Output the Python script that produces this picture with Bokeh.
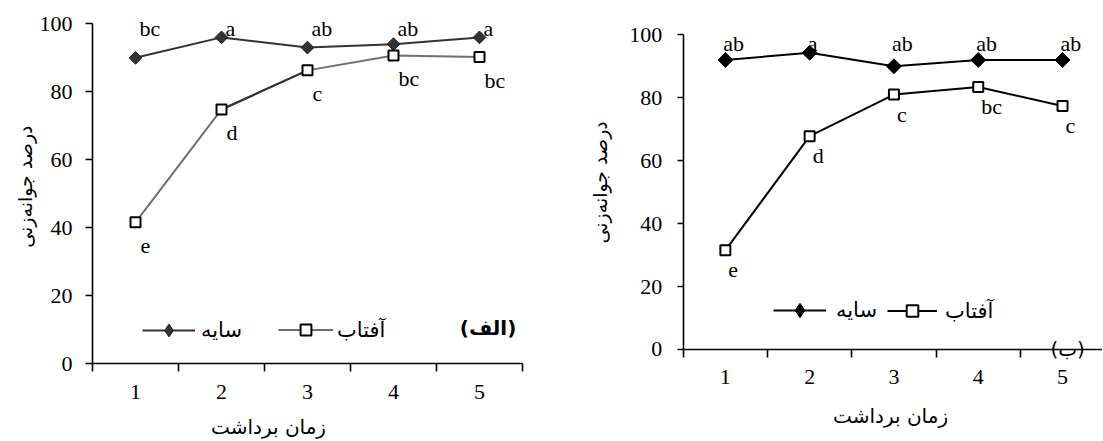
import numpy as np
from bokeh.plotting import figure
from bokeh.layouts import row
from bokeh.models import (ColumnDataSource, FixedTicker, Legend, LegendItem,
                          Label, LabelSet)
from bokeh.core.properties import value
from bokeh.embed import file_html
from bokeh.resources import INLINE

# ---------------- data ----------------
harvest = [1, 2, 3, 4, 5]
tick_labels = ["1", "2", "3", "4", "5"]
y_ticks = [0, 20, 40, 60, 80, 100]

a_shade = [90, 96, 93, 94, 96]
a_sun = [41.6, 74.8, 86.3, 90.7, 90.2]
a_shade_letters = ["bc", "a", "ab", "ab", "a"]
a_sun_letters = ["e", "d", "c", "bc", "bc"]

b_shade = [92, 94.3, 90, 92, 92]
b_sun = [31.5, 67.8, 81, 83.4, 77.4]
b_shade_letters = ["ab", "a", "ab", "ab", "ab"]
b_sun_letters = ["e", "d", "c", "bc", "c"]

y_title = "درصد جوانه‌زنی"
x_title = "زمان برداشت"
shade_name = "سایه"
sun_name = "آفتاب"
panel_a = "(الف)"
panel_b = "(ب)"

SERIF = "Liberation Serif"
FA = "DejaVu Sans"
H = 440


def make_fig(width, x_range, y_range, x_bounds, tick_out_y, y_standoff):
    p = figure(width=width, height=H, x_range=x_range, y_range=y_range,
               output_backend="svg", toolbar_location=None,
               min_border=0, min_border_left=0, min_border_right=0,
               min_border_top=0, min_border_bottom=0)
    p.xgrid.visible = False
    p.ygrid.visible = False
    p.outline_line_color = None
    for ax in (p.xaxis[0], p.yaxis[0]):
        ax.axis_line_color = "black"
        ax.axis_line_width = 1.6
        ax.major_label_text_font = SERIF
        ax.major_label_text_font_size = "22px"
        ax.major_label_text_color = "black"
    xa = p.xaxis[0]
    xa.fixed_location = 0
    xa.bounds = x_bounds
    xa.ticker = FixedTicker(ticks=harvest,
                            minor_ticks=[h - 0.5 for h in harvest] + [harvest[-1] + 0.5])
    xa.major_label_overrides = {h: t for h, t in zip(harvest, tick_labels)}
    xa.major_tick_out = 0
    xa.major_tick_in = 0
    xa.minor_tick_out = 8
    xa.minor_tick_in = 0
    xa.minor_tick_line_color = "black"
    xa.minor_tick_line_width = 1.6
    xa.major_label_standoff = 13
    ya = p.yaxis[0]
    ya.fixed_location = 0.5
    ya.bounds = (0, 100)
    ya.ticker = FixedTicker(ticks=y_ticks)
    ya.major_tick_out = tick_out_y
    ya.major_tick_in = 0
    ya.major_tick_line_color = "black"
    ya.major_tick_line_width = 1.6
    ya.minor_tick_line_color = None
    ya.major_label_standoff = y_standoff
    return p


def letters(p, xs, ys, txt, xo, yo):
    src = ColumnDataSource(dict(x=xs, y=ys, t=txt))
    p.add_layout(LabelSet(x="x", y="y", text="t", source=src, x_offset=xo, y_offset=yo,
                          text_font=value(SERIF), text_font_size=value("22px"),
                          text_color="black", text_align="left",
                          text_baseline="alphabetic"))


def text(p, x, y, s, size="20px", angle=0.0, style="normal"):
    p.add_layout(Label(x=x, y=y, text=s, angle=angle, text_align="center",
                       text_baseline="middle", text_font=FA, text_font_size=size,
                       text_font_style=style, text_color="black"))


def legend(p, label, renderers, loc, gw, gh, standoff):
    p.add_layout(Legend(items=[LegendItem(label=value(label), renderers=renderers)],
                        orientation="horizontal", location=loc, glyph_width=gw,
                        glyph_height=gh, label_height=20, label_standoff=standoff,
                        padding=0, margin=0, border_line_color=None,
                        background_fill_alpha=0, inactive_fill_alpha=0,
                        label_text_font=FA, label_text_font_size="21px",
                        label_text_color="black"))


# ---------------- panel (الف) ----------------
p1 = make_fig(560, (-0.570, 5.942), (-22.56, 106.85), (0.5, 5.5), 7, 13)

dark = "#333333"
grey = "#707070"
l1 = p1.line(harvest, a_shade, line_color=dark, line_width=2)
l2 = p1.line(harvest, a_sun, line_color=grey, line_width=2)
p1.line(harvest[1:3], a_sun[1:3], line_color=dark, line_width=2)
p1.scatter(harvest, a_shade, marker="square", angle=np.pi / 4, size=9,
           fill_color=dark, line_color="#1a1a1a", line_width=1)
m2 = p1.scatter(harvest, a_sun, marker="square", size=10, fill_color="white",
                line_color="black", line_width=2)
# legend-only diamond key (legend keys ignore marker rotation)
k1 = p1.scatter(harvest, a_shade, marker="diamond", fill_color=dark,
                line_color="#1a1a1a", line_width=1, visible=False)

letters(p1, harvest, [max(a_shade)] * len(harvest), a_shade_letters, 4, 1)
letters(p1, harvest, a_sun, a_sun_letters, 5, -31)

legend(p1, shade_name, [l1, k1], (142, 94), 53, 32, 6)
legend(p1, sun_name, [l2, m2], (278, 97), 55, 27, 4)

text(p1, 2.547, -18.7, x_title)
text(p1, -0.29, 52.1, y_title, size="19px", angle=np.pi / 2)
text(p1, 5.1, 10.4, panel_a, style="bold")

# ---------------- panel (ب) ----------------
p2 = make_fig(542, (-0.9555, 5.474), (-28.92, 110.9), (0.5, 5.474), 6, 15)

l3 = p2.line(harvest, b_shade, line_color="black", line_width=2)
l4 = p2.line(harvest, b_sun, line_color="black", line_width=2)
p2.scatter(harvest, b_shade, marker="square", angle=np.pi / 4, size=10.5,
           fill_color="black", line_color="black", line_width=1)
m4 = p2.scatter(harvest, b_sun, marker="square", size=10, fill_color="white",
                line_color="black", line_width=2)
k3 = p2.scatter(harvest, b_shade, marker="diamond", fill_color="black",
                line_color="black", line_width=1, visible=False)

letters(p2, harvest, [max(b_shade)] * len(harvest), b_shade_letters, -2, 2)
letters(p2, harvest, b_sun, b_sun_letters, 3, -27)

legend(p2, shade_name, [l3, k3], (213, 112), 53, 36, 10)
legend(p2, sun_name, [l4, m4], (327, 115), 50, 29, 8)

text(p2, 2.96, -21, x_title)
text(p2, -0.481, 53.1, y_title, size="19px", angle=np.pi / 2)
text(p2, 5.06, 0, panel_b)

layout = row(p1, p2)
open("out.html", "w").write(file_html(layout, INLINE))
